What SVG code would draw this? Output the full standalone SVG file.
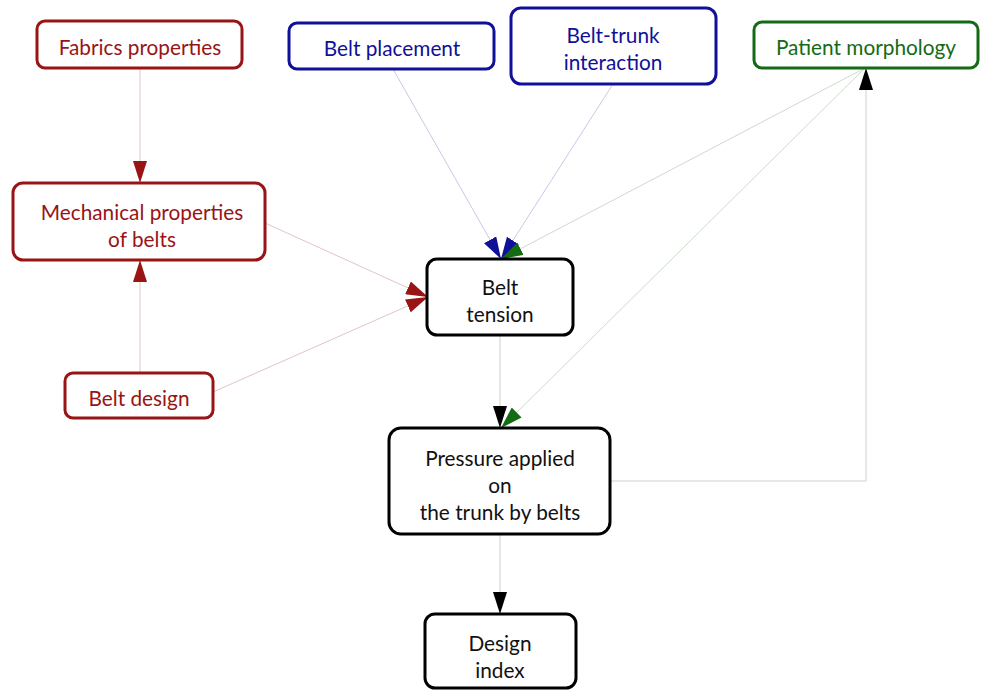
<svg xmlns="http://www.w3.org/2000/svg" width="984" height="690" viewBox="0 0 984 690">
<defs>
<style>
.n rect{fill:#fff;stroke-width:3}
.red rect{stroke:#991414}.red text{fill:#991414}
.blue rect{stroke:#101099}.blue text{fill:#101099}
.green rect{stroke:#146b14}.green text{fill:#146b14}
.blk rect{stroke:#000}.blk text{fill:#111}
text{font-family:Lato,"Liberation Sans",sans-serif;font-size:20.8px;text-anchor:middle;dominant-baseline:central}
.c line,.c polyline{fill:none;stroke-width:1}
.lr{stroke:#e2c4c4}.lb{stroke:#c8c8e6}.lg{stroke:#cbdccb}.lk{stroke:#cfcfcf}
</style>
<marker id="ar" markerUnits="userSpaceOnUse" markerWidth="22" markerHeight="14" refX="22" refY="7" orient="auto"><path d="M0,0L22,7L0,14z" fill="#991414"/></marker>
<marker id="ab" markerUnits="userSpaceOnUse" markerWidth="22" markerHeight="14" refX="22" refY="7" orient="auto"><path d="M0,0L22,7L0,14z" fill="#101099"/></marker>
<marker id="ag" markerUnits="userSpaceOnUse" markerWidth="22" markerHeight="14" refX="22" refY="7" orient="auto"><path d="M0,0L22,7L0,14z" fill="#146b14"/></marker>
<marker id="ak" markerUnits="userSpaceOnUse" markerWidth="22" markerHeight="14" refX="22" refY="7" orient="auto"><path d="M0,0L22,7L0,14z" fill="#000"/></marker>
</defs>
<rect width="984" height="690" fill="#fff"/>
<g id="connectors" class="c">
<line class="lr" x1="140" y1="68" x2="140" y2="183" marker-end="url(#ar)"/>
<line class="lr" x1="140" y1="373" x2="140" y2="260" marker-end="url(#ar)"/>
<line class="lr" x1="265" y1="223" x2="428" y2="297" marker-end="url(#ar)"/>
<line class="lr" x1="213" y1="392" x2="428" y2="297" marker-end="url(#ar)"/>
<line class="lb" x1="393" y1="69" x2="501" y2="259" marker-end="url(#ab)"/>
<line class="lb" x1="613" y1="84" x2="501" y2="259" marker-end="url(#ab)"/>
<line class="lg" x1="865" y1="68" x2="501" y2="259" marker-end="url(#ag)"/>
<line class="lg" x1="865" y1="68" x2="501" y2="428" marker-end="url(#ag)"/>
<line class="lk" x1="500" y1="335" x2="500" y2="428" marker-end="url(#ak)"/>
<polyline class="lk" points="610,481 866,481 866,68" marker-end="url(#ak)"/>
<line class="lk" x1="500" y1="534" x2="500" y2="614" marker-end="url(#ak)"/>
</g>
<g id="fabrics" class="n red"><rect x="37" y="21" width="205" height="47" rx="8"/><text x="140" y="46">Fabrics properties</text></g>
<g id="placement" class="n blue"><rect x="289" y="23" width="205" height="46" rx="8"/><text x="392" y="47">Belt placement</text></g>
<g id="interaction" class="n blue"><rect x="511" y="8" width="205" height="76" rx="10"/><text x="613" y="34">Belt-trunk</text><text x="613" y="61">interaction</text></g>
<g id="morphology" class="n green"><rect x="754" y="22" width="224" height="46" rx="8"/><text x="866" y="46">Patient morphology</text></g>
<g id="mechanical" class="n red"><rect x="13" y="183" width="252" height="77" rx="10"/><text x="142" y="211">Mechanical properties</text><text x="142" y="238">of belts</text></g>
<g id="design" class="n red"><rect x="65" y="373" width="148" height="45" rx="8"/><text x="139" y="397">Belt design</text></g>
<g id="tension" class="n blk"><rect x="427" y="259" width="146" height="76" rx="10"/><text x="500" y="286">Belt</text><text x="500" y="313">tension</text></g>
<g id="pressure" class="n blk"><rect x="389" y="428" width="221" height="106" rx="12"/><text x="500" y="457">Pressure applied</text><text x="500" y="484">on</text><text x="500" y="511">the trunk by belts</text></g>
<g id="index" class="n blk"><rect x="425" y="614" width="151" height="74" rx="10"/><text x="500" y="642">Design</text><text x="500" y="669">index</text></g>
</svg>
